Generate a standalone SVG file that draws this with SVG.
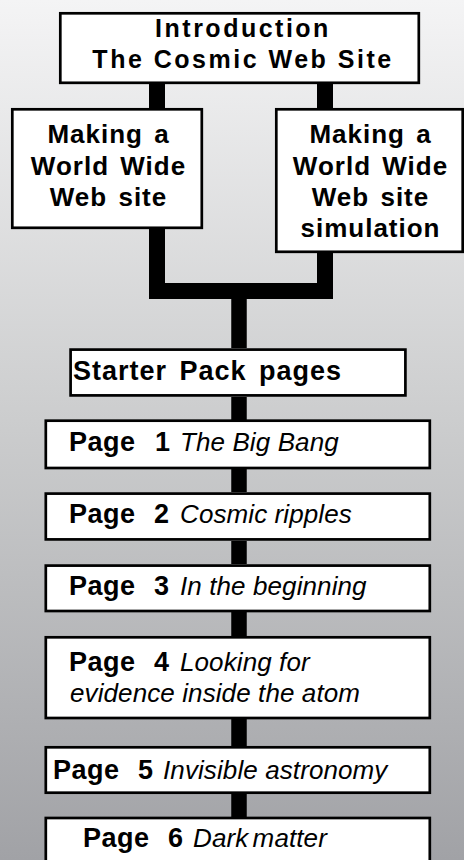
<svg xmlns="http://www.w3.org/2000/svg" width="464" height="860" viewBox="0 0 464 860">
  <defs>
    <linearGradient id="bg" x1="0" y1="0" x2="0" y2="1">
      <stop offset="0" stop-color="#f4f4f5"/>
      <stop offset="0.5" stop-color="#cbcccd"/>
      <stop offset="1" stop-color="#a1a2a6"/>
    </linearGradient>
  </defs>
  <style>
    .box { fill: #ffffff; stroke: #000000; stroke-width: 2.7; }
    .wire { fill: none; stroke: #000000; stroke-width: 16; stroke-linecap: butt; stroke-linejoin: miter; }
    .col { fill: none; stroke: #000000; stroke-width: 15.5; }
    text { font-family: "Liberation Sans", Arial, sans-serif; fill: #000000; }
    .head { font-size: 25px; font-weight: bold; letter-spacing: 2.5px; text-anchor: middle; }
    .sub { font-size: 26px; font-weight: bold; letter-spacing: 1px; word-spacing: 3px; text-anchor: middle; }
    .b { font-size: 27px; font-weight: bold; letter-spacing: 0.5px; }
    .i { font-size: 26px; font-style: italic; letter-spacing: 0.1px; }
  </style>

  <rect width="464" height="860" fill="url(#bg)"/>

  <g id="connectors">
    <path class="wire" d="M157 84 V108"/>
    <path class="wire" d="M325 84 V108"/>
    <path class="wire" d="M157 229 V291 H325 V253"/>
    <path class="col" d="M239 283 V348"/>
    <path class="col" d="M239 397 V420"/>
    <path class="col" d="M239 469 V492"/>
    <path class="col" d="M239 541 V564"/>
    <path class="col" d="M239 612 V637"/>
    <path class="col" d="M239 719 V746"/>
    <path class="col" d="M239 794 V817"/>
  </g>

  <g id="intro">
    <rect class="box" x="60.3" y="13.3" width="358.5" height="69.5"/>
    <text class="head" x="243" y="37">Introduction</text>
    <text class="head" x="243" y="68">The Cosmic Web Site</text>
  </g>

  <g id="making-site">
    <rect class="box" x="12.3" y="109.3" width="189.5" height="118.5"/>
    <text class="sub" x="108.5" y="143">Making a</text>
    <text class="sub" x="108.5" y="175">World Wide</text>
    <text class="sub" x="108.5" y="206">Web site</text>
  </g>

  <g id="making-simulation">
    <rect class="box" x="276.3" y="109.3" width="186.4" height="142.5"/>
    <text class="sub" x="370.5" y="143">Making a</text>
    <text class="sub" x="370.5" y="175">World Wide</text>
    <text class="sub" x="370.5" y="206">Web site</text>
    <text class="sub" x="370.5" y="237">simulation</text>
  </g>

  <g id="starter-pack">
    <rect class="box" x="70.6" y="349.6" width="334.8" height="45.8"/>
    <text class="b" x="73" y="380" style="letter-spacing:1px;word-spacing:4px">Starter Pack pages</text>
  </g>

  <g id="page-1">
    <rect class="box" x="45.8" y="420.7" width="384" height="47.3"/>
    <text y="451"><tspan class="b" x="69">Page</tspan><tspan class="b" x="155">1</tspan><tspan class="i" x="180">The Big Bang</tspan></text>
  </g>

  <g id="page-2">
    <rect class="box" x="45.8" y="493.6" width="384" height="45.8"/>
    <text y="523"><tspan class="b" x="69">Page</tspan><tspan class="b" x="154">2</tspan><tspan class="i" x="180">Cosmic ripples</tspan></text>
  </g>

  <g id="page-3">
    <rect class="box" x="45.8" y="565.6" width="384" height="45.4"/>
    <text y="595"><tspan class="b" x="69">Page</tspan><tspan class="b" x="154">3</tspan><tspan class="i" x="180">In the beginning</tspan></text>
  </g>

  <g id="page-4">
    <rect class="box" x="45.8" y="637.3" width="384" height="80.7"/>
    <text y="671"><tspan class="b" x="69">Page</tspan><tspan class="b" x="154">4</tspan><tspan class="i" x="180">Looking for</tspan></text>
    <text class="i" x="70" y="702">evidence inside the atom</text>
  </g>

  <g id="page-5">
    <rect class="box" x="45.8" y="747.3" width="384" height="45.4"/>
    <text y="779"><tspan class="b" x="53">Page</tspan><tspan class="b" x="138">5</tspan><tspan class="i" x="163">Invisible astronomy</tspan></text>
  </g>

  <g id="page-6">
    <rect class="box" x="45.8" y="818" width="384" height="60"/>
    <text y="847"><tspan class="b" x="83">Page</tspan><tspan class="b" x="168">6</tspan><tspan class="i" x="193" style="word-spacing:-3px">Dark matter</tspan></text>
  </g>
</svg>
